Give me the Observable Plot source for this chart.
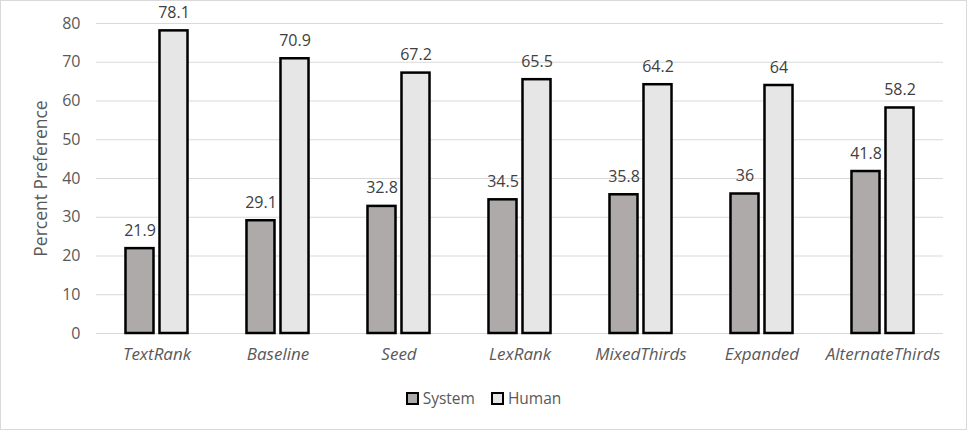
<!DOCTYPE html>
<html>
<head>
<meta charset="utf-8">
<script src="https://cdn.jsdelivr.net/npm/d3@7"></script>
<script src="https://cdn.jsdelivr.net/npm/@observablehq/plot@0.6"></script>
<style>
  html, body { margin: 0; padding: 0; background: #fff; }
  #wrap { width: 967px; height: 430px; box-sizing: border-box; border: 1px solid #d9d9d9; background: #fff; overflow: hidden; }
  #legend { height: 48px; box-sizing: border-box; padding-top: 8px; display: flex; justify-content: center; align-items: flex-start;
            font-family: "Segoe UI", "Open Sans", sans-serif; font-size: 15.5px; color: #595959; line-height: 18px; }
  .item { display: flex; align-items: center; margin: 0 8px; }
  .sw { width: 9px; height: 9px; border: 2px solid #000; margin-right: 4px; }
  #chart g[aria-label="y-axis label"] { font-size: 17.5px; }
</style>
</head>
<body>
<div id="wrap"><div id="chart"></div><div id="legend"></div></div>
<script>
const categories = ["TextRank", "Baseline", "Seed", "LexRank", "MixedThirds", "Expanded", "AlternateThirds"];
const seriesNames = ["System", "Human"];
const systemValues = [21.9, 29.1, 32.8, 34.5, 35.8, 36, 41.8];
const humanValues = [78.1, 70.9, 67.2, 65.5, 64.2, 64, 58.2];
const yTicks = [0, 10, 20, 30, 40, 50, 60, 70, 80];
const colors = ["#aeaaaa", "#e7e6e6"];

const rows = [];
categories.forEach((c, i) => {
  rows.push({category: c, series: "System", value: systemValues[i]});
  rows.push({category: c, series: "Human", value: humanValues[i]});
});

const chart = Plot.plot({
  width: 965,
  height: 380,
  marginTop: 22,
  marginBottom: 48,
  marginLeft: 94,
  marginRight: 23,
  style: {fontFamily: '"Segoe UI", "Open Sans", sans-serif', fontSize: "16px", color: "#595959", background: "#fff"},
  fx: {domain: categories, padding: 0, axis: null, label: null},
  x: {domain: seriesNames, paddingInner: 0.176, paddingOuter: 0.867, axis: null, round: false},
  y: {domain: [0, 80], ticks: yTicks, tickSize: 0, tickPadding: 16, label: "Percent Preference", labelArrow: "none", labelAnchor: "center", labelOffset: 62},
  color: {domain: seriesNames, range: colors},
  marks: [
    Plot.ruleY(yTicks, {stroke: "#d9d9d9", strokeWidth: 1}),
    Plot.barY(rows, {fx: "category", x: "series", y: "value", fill: "series", stroke: "#000", strokeWidth: 2.5}),
    Plot.text(rows, {fx: "category", x: "series", y: "value", text: d => String(d.value), dy: -13, lineAnchor: "bottom", fontSize: 16, fill: "#404040"}),
    Plot.text(categories, {fx: d => d, text: d => d, frameAnchor: "bottom", dy: 26, fontStyle: "italic", fontSize: 17, fill: "#595959"})
  ]
});
document.getElementById("chart").appendChild(chart);

const legend = document.getElementById("legend");
seriesNames.forEach((s, i) => {
  const item = document.createElement("div");
  item.className = "item";
  const sw = document.createElement("div");
  sw.className = "sw";
  sw.style.background = colors[i];
  const label = document.createElement("span");
  label.textContent = s;
  item.appendChild(sw);
  item.appendChild(label);
  legend.appendChild(item);
});
</script>
</body>
</html>
